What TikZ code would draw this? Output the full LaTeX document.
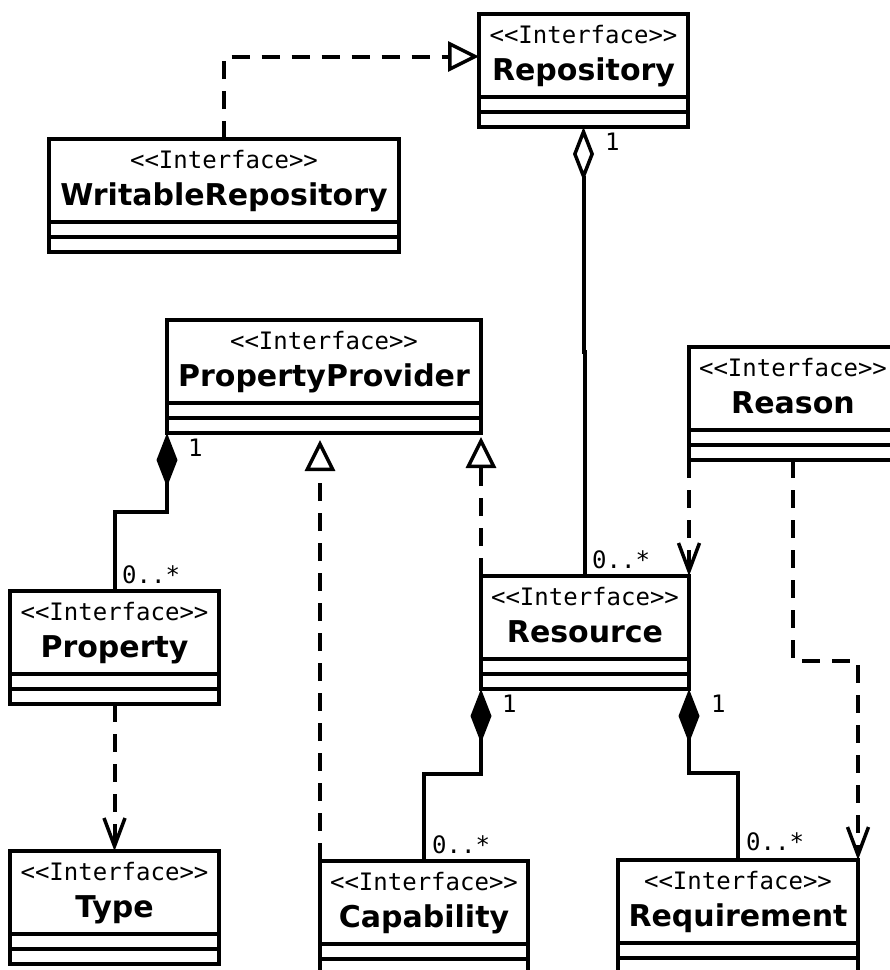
\documentclass[tikz,border=0pt]{standalone}
\usepackage{fontspec}
\usetikzlibrary{arrows.meta}
\newfontfamily\monofam{DejaVu Sans Mono}
\newfontfamily\sansfam{DejaVu Sans}
\newcommand\stereofont{\monofam\fontsize{24}{24}\selectfont}
\newcommand\namefont{\sansfam\bfseries\fontsize{30}{30}\selectfont}
\newcommand\multfont{\monofam\fontsize{24}{24}\selectfont}
% class text: stereotype line and name line inside a fixed 113pt high box
\newcommand\umltext[2]{%
  \parbox[t][113pt][t]{#1}{\offinterlineskip
    \hbox to #1{\hss\rule{0pt}{29.5pt}\raisebox{0pt}[\height][0pt]{\stereofont<\kern0pt<Interface>\kern0pt>}\hss}%
    \hbox to #1{\hss\rule{0pt}{37pt}\raisebox{0pt}[0pt][\depth]{\namefont #2}\hss}\vss}}
\tikzset{
  umlbox/.style={draw, line width=4pt, inner sep=0pt, outer sep=0pt, anchor=north west,
    path picture={
      \draw[line width=3.5pt] ([yshift=30pt]path picture bounding box.south west) -- ([yshift=30pt]path picture bounding box.south east);
      \draw[line width=3.5pt] ([yshift=15pt]path picture bounding box.south west) -- ([yshift=15pt]path picture bounding box.south east);
    }},
  conn/.style={line width=4pt},
  depline/.style={conn, dash pattern=on 18pt off 12pt},
  realize/.style={depline, -{Triangle[open, length=31pt, width=30pt, line width=3.5pt]}},
  uses/.style={depline, -{Straight Barb[length=28pt, width=21pt, line width=3.5pt]}},
  composite/.style={conn, {Diamond[length=54pt, width=21pt]}-},
  aggregate/.style={conn, {Diamond[open, length=54pt, width=21pt, line width=3.5pt]}-},
  mult/.style={anchor=base west, inner sep=0pt, font=\multfont},
}
\begin{document}
\begin{tikzpicture}[x=1pt, y=1pt]
\path[use as bounding box] (0,0) rectangle (890,-970);
\clip (0,0) rectangle (890,-970);

% classes
\node[umlbox] (repo)   at (479,-14)  {\umltext{209pt}{Repository}};
\node[umlbox] (wrepo)  at (49,-139)  {\umltext{350pt}{WritableRepository}};
\node[umlbox] (pp)     at (167,-320) {\umltext{314pt}{PropertyProvider}};
\node[umlbox] (reason) at (689,-347) {\umltext{208pt}{Reason}};
\node[umlbox] (prop)   at (10,-591)  {\umltext{209pt}{Property}};
\node[umlbox] (res)    at (481,-576) {\umltext{208pt}{Resource}};
\node[umlbox] (type)   at (10,-851)  {\umltext{209pt}{Type}};
\node[umlbox] (cap)    at (320,-861) {\umltext{208pt}{Capability}};
\node[umlbox] (req)    at (618,-860) {\umltext{240pt}{Requirement}};

% realizations
\draw[realize] (wrepo.north) |- ([yshift=14pt]repo.west);
\draw[realize, shorten >=7pt] (cap.north west) -- (cap.north west |- pp.south);
\draw[realize, shorten >=4pt] (res.north west) -- (res.north west |- pp.south);

% aggregation and compositions
\draw[aggregate] (repo.south) -- ++(0,-225) -| (res.north);
\draw[composite] (pp.south west) -- ++(0,-79) -| (prop.north);
\draw[composite] (res.south west) -- ++(0,-85) -| (cap.north);
\draw[composite] (res.south east) -- ++(0,-84) -| (req.north);

% dependencies
\draw[uses] (reason.south west) -- (res.north east);
\draw[uses] (reason.south) -- ++(0,-201) -| (req.north east);
\draw[uses] (prop.south) -- (type.north);

% multiplicities
\node[mult] (mrepo)  at (605,-150) {1};
\node[mult] (mresA)  at (592,-568) {0..*};
\node[mult] (mpp)    at (188,-456) {1};
\node[mult] (mprop)  at (122,-583) {0..*};
\node[mult] (mresL)  at (502,-712) {1};
\node[mult] (mresR)  at (711,-712) {1};
\node[mult] (mcap)   at (432,-853) {0..*};
\node[mult] (mreq)   at (746,-850) {0..*};
\end{tikzpicture}
\end{document}
